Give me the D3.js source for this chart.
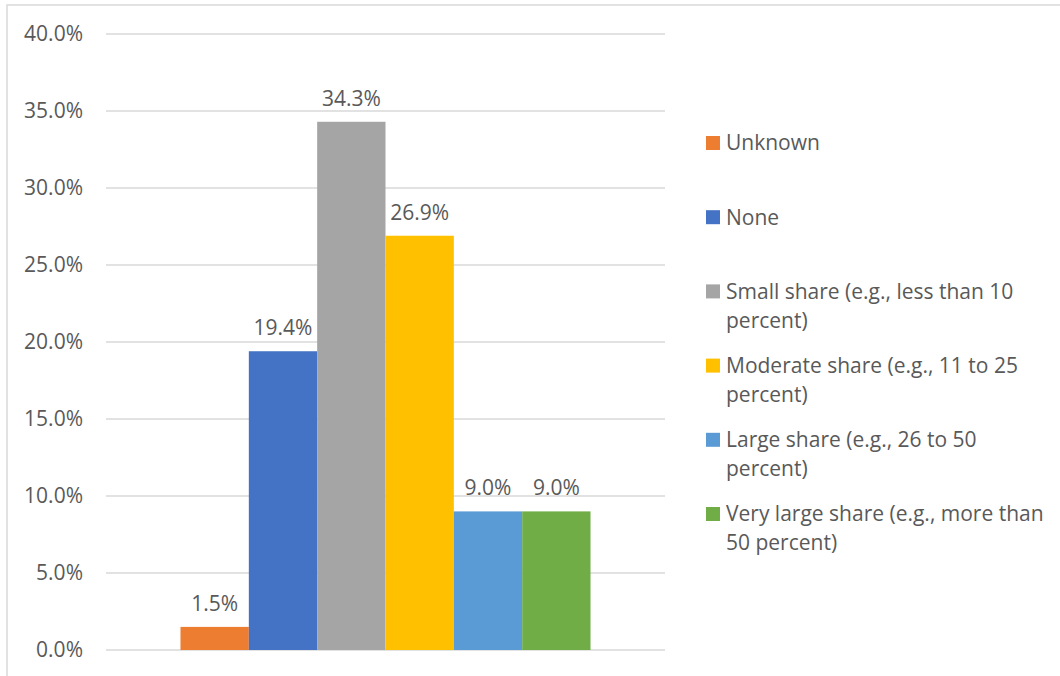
<!DOCTYPE html>
<html>
<head>
<meta charset="utf-8">
<script src="https://cdn.jsdelivr.net/npm/d3@7"></script>
<style>
  html, body { margin: 0; padding: 0; background: #fff; }
  svg { display: block; }
  text { font-family: "Open Sans", "Noto Sans", sans-serif; fill: #595959; }
</style>
</head>
<body>
<svg id="chart" width="1060" height="676"></svg>
<script>
// Share categories, their values and colours
const categories = [
  "Unknown",
  "None",
  "Small share (e.g., less than 10 percent)",
  "Moderate share (e.g., 11 to 25 percent)",
  "Large share (e.g., 26 to 50 percent)",
  "Very large share (e.g., more than 50 percent)"
];
const values = [0.015, 0.194, 0.343, 0.269, 0.090, 0.090];
const colors = ["#ED7D31", "#4472C4", "#A5A5A5", "#FFC000", "#5B9BD5", "#70AD47"];
// Legend text, already broken into lines
const legendLines = [
  ["Unknown"],
  ["None"],
  ["Small share (e.g., less than 10", "percent)"],
  ["Moderate share (e.g., 11 to 25", "percent)"],
  ["Large share (e.g., 26 to 50", "percent)"],
  ["Very large share (e.g., more than", "50 percent)"]
];
const yTicks = [0, 0.05, 0.10, 0.15, 0.20, 0.25, 0.30, 0.35, 0.40];

const svg = d3.select("#chart");
const W = 1060, H = 676;
const FS = 21;

// Chart area frame
svg.append("rect")
  .attr("x", 7).attr("y", 5)
  .attr("width", W + 20).attr("height", H + 20)
  .attr("fill", "#fff")
  .attr("stroke", "#d9d9d9").attr("stroke-width", 1.5);

const plot = { left: 106, right: 665, top: 34, bottom: 650 };

const y = d3.scaleLinear().domain([0, 0.4]).range([plot.bottom, plot.top]);
const x = d3.scaleBand()
  .domain(categories)
  .range([plot.left, plot.right])
  .paddingInner(0)
  .paddingOuter(1.09);

const pct = d3.format(".1%");

// Gridlines
svg.append("g").selectAll("line")
  .data(yTicks)
  .join("line")
  .attr("x1", plot.left).attr("x2", plot.right)
  .attr("y1", d => y(d)).attr("y2", d => y(d))
  .attr("stroke", "#d9d9d9").attr("stroke-width", 1.5);

// Y axis labels
svg.append("g").selectAll("text")
  .data(yTicks)
  .join("text")
  .attr("x", 83)
  .attr("y", d => y(d))
  .attr("dy", "0.35em")
  .attr("text-anchor", "end")
  .attr("font-size", FS)
  .text(d => pct(d));

// Bars
svg.append("g").selectAll("rect")
  .data(values)
  .join("rect")
  .attr("x", (d, i) => x(categories[i]))
  .attr("width", x.bandwidth())
  .attr("y", d => y(d))
  .attr("height", d => y(0) - y(d))
  .attr("fill", (d, i) => colors[i]);

// Value labels
svg.append("g").selectAll("text")
  .data(values)
  .join("text")
  .attr("x", (d, i) => x(categories[i]) + x.bandwidth() / 2)
  .attr("y", d => y(d) - 16)
  .attr("text-anchor", "middle")
  .attr("font-size", FS)
  .text(d => pct(d));

// Legend
const legendTop = 143, legendStep = 74.2, lineH = 29;
const lg = svg.append("g").selectAll("g")
  .data(categories)
  .join("g")
  .attr("transform", (d, i) => `translate(706, ${legendTop + i * legendStep})`);

lg.append("rect")
  .attr("x", 0).attr("y", -7)
  .attr("width", 14).attr("height", 14)
  .attr("fill", (d, i) => colors[i]);

lg.append("text")
  .attr("x", 20)
  .attr("font-size", FS)
  .selectAll("tspan")
  .data((d, i) => legendLines[i])
  .join("tspan")
  .attr("x", 20)
  .attr("y", (d, j) => j * lineH)
  .attr("dy", "0.35em")
  .text(d => d);
</script>
</body>
</html>
